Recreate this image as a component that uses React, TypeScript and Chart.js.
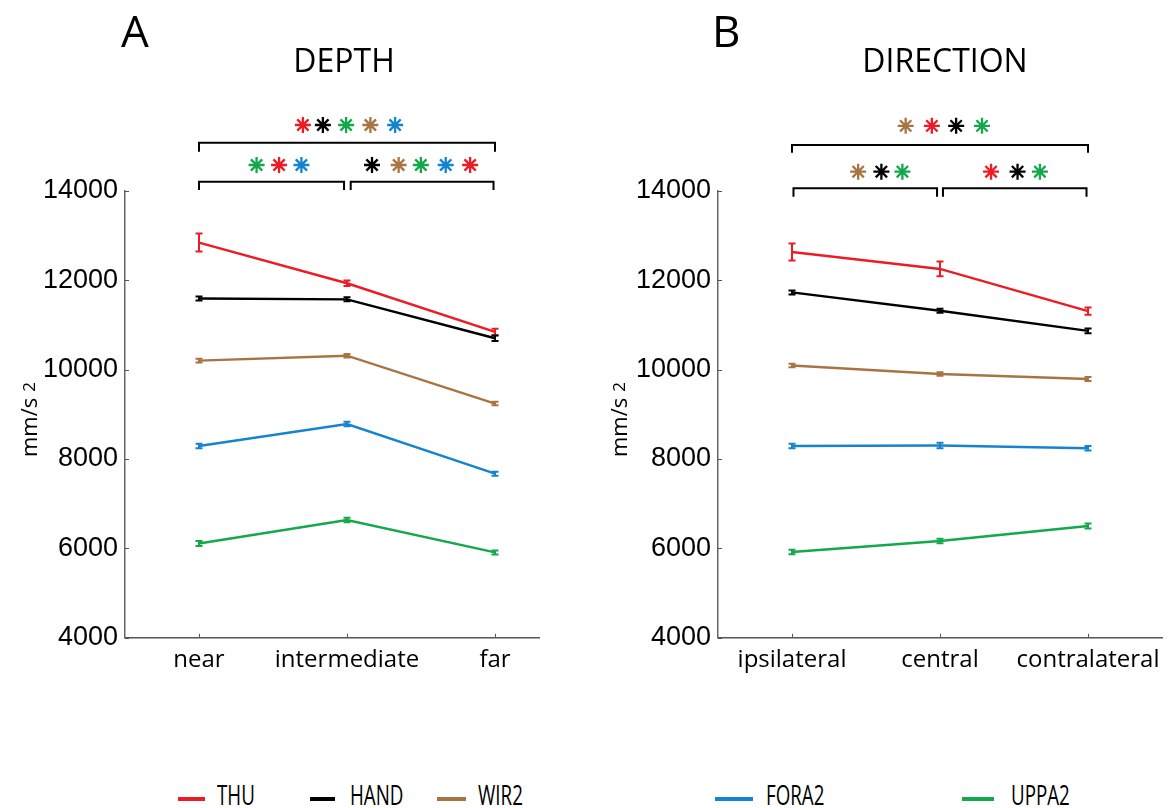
import React, { useEffect, useRef } from 'react';
import { Chart, registerables } from 'chart.js';

Chart.register(...registerables);

// ---------- data ----------
const seriesNames = ['THU', 'HAND', 'WIR2', 'FORA2', 'UPPA2'];
const seriesColors = ['#ED1C24', '#000000', '#A87443', '#1584D0', '#13A84B'];

const depthCategories = ['near', 'intermediate', 'far'];
const depthTHU = [12840, 11930, 10840];
const depthHAND = [11590, 11570, 10700];
const depthWIR2 = [10200, 10310, 9240];
const depthFORA2 = [8290, 8780, 7670];
const depthUPPA2 = [6110, 6635, 5910];
const depthErrTHU = [200, 60, 75];
const depthErrHAND = [45, 45, 60];
const depthErrWIR2 = [40, 40, 40];
const depthErrFORA2 = [50, 50, 45];
const depthErrUPPA2 = [55, 50, 45];

const directionCategories = ['ipsilateral', 'central', 'contralateral'];
const dirTHU = [12630, 12250, 11305];
const dirHAND = [11725, 11315, 10865];
const dirWIR2 = [10090, 9900, 9790];
const dirFORA2 = [8290, 8300, 8240];
const dirUPPA2 = [5920, 6165, 6500];
const dirErrTHU = [190, 165, 80];
const dirErrHAND = [45, 45, 55];
const dirErrWIR2 = [40, 40, 45];
const dirErrFORA2 = [50, 60, 50];
const dirErrUPPA2 = [50, 50, 55];

const yTicks = [4000, 6000, 8000, 10000, 12000, 14000];

// significance markers (x in category units, y in data units, colour index)
const depthStars = [
  { x: 1.702, y: 15470, c: 0 }, { x: 1.837, y: 15470, c: 1 }, { x: 1.994, y: 15470, c: 4 },
  { x: 2.158, y: 15470, c: 2 }, { x: 2.325, y: 15470, c: 3 },
  { x: 1.389, y: 14575, c: 4 }, { x: 1.541, y: 14575, c: 0 }, { x: 1.692, y: 14575, c: 3 },
  { x: 2.169, y: 14575, c: 1 }, { x: 2.349, y: 14575, c: 2 }, { x: 2.499, y: 14575, c: 4 },
  { x: 2.667, y: 14575, c: 3 }, { x: 2.832, y: 14575, c: 0 },
];
const depthBrackets = [
  { x1: 1.0, x2: 3.0, y: 15074, yEnd: 14872 },
  { x1: 1.0, x2: 1.98, y: 14201, yEnd: 14016 },
  { x1: 2.025, x2: 2.99, y: 14201, yEnd: 14016 },
];
const dirStars = [
  { x: 1.768, y: 15450, c: 2 }, { x: 1.945, y: 15450, c: 0 }, { x: 2.109, y: 15450, c: 1 },
  { x: 2.284, y: 15450, c: 4 },
  { x: 1.447, y: 14425, c: 2 }, { x: 1.604, y: 14425, c: 1 }, { x: 1.746, y: 14425, c: 4 },
  { x: 2.345, y: 14425, c: 0 }, { x: 2.524, y: 14425, c: 1 }, { x: 2.675, y: 14425, c: 4 },
];
const dirBrackets = [
  { x1: 1.0, x2: 3.0, y: 15022, yEnd: 14850 },
  { x1: 1.01, x2: 1.98, y: 14054, yEnd: 13866 },
  { x1: 2.02, x2: 2.99, y: 14054, yEnd: 13866 },
];

// ---------- plugin ----------
const annotPlugin = {
  id: 'annot',
  afterDatasetsDraw(chart: any, _args: any, opts: any) {
    const ctx = chart.ctx;
    const xs = chart.scales.x;
    const ys = chart.scales.y;
    chart.data.datasets.forEach((ds: any, i: number) => {
      const errs = opts.errors[i];
      ctx.save();
      ctx.strokeStyle = ds.borderColor;
      ctx.lineWidth = 2;
      ds.data.forEach((p: any, j: number) => {
        const x = xs.getPixelForValue(p.x);
        const y1 = ys.getPixelForValue(p.y - errs[j]);
        const y2 = ys.getPixelForValue(p.y + errs[j]);
        ctx.beginPath();
        ctx.moveTo(x, y1); ctx.lineTo(x, y2);
        ctx.moveTo(x - 3.5, y1); ctx.lineTo(x + 3.5, y1);
        ctx.moveTo(x - 3.5, y2); ctx.lineTo(x + 3.5, y2);
        ctx.stroke();
      });
      ctx.restore();
    });
  },
  afterDraw(chart: any, _args: any, opts: any) {
    const ctx = chart.ctx;
    const xs = chart.scales.x;
    const ys = chart.scales.y;
    const area = chart.chartArea;
    ctx.save();
    // inward tick marks
    ctx.strokeStyle = '#555';
    ctx.lineWidth = 1;
    ctx.beginPath();
    yTicks.forEach((v) => {
      const y = Math.round(ys.getPixelForValue(v)) + 0.5;
      ctx.moveTo(area.left, y); ctx.lineTo(area.left + 4, y);
    });
    [1, 2, 3].forEach((v) => {
      const x = Math.round(xs.getPixelForValue(v)) + 0.5;
      ctx.moveTo(x, area.bottom); ctx.lineTo(x, area.bottom - 4);
    });
    ctx.stroke();
    // brackets
    ctx.strokeStyle = '#000';
    ctx.lineWidth = 2;
    opts.brackets.forEach((b: any) => {
      const x1 = xs.getPixelForValue(b.x1);
      const x2 = xs.getPixelForValue(b.x2);
      const y = ys.getPixelForValue(b.y);
      const ye = ys.getPixelForValue(b.yEnd);
      ctx.beginPath();
      ctx.moveTo(x1, ye); ctx.lineTo(x1, y); ctx.lineTo(x2, y); ctx.lineTo(x2, ye);
      ctx.stroke();
    });
    // asterisks
    opts.stars.forEach((s: any) => {
      const cx = xs.getPixelForValue(s.x);
      const cy = ys.getPixelForValue(s.y);
      const r = 8;
      ctx.strokeStyle = seriesColors[s.c];
      ctx.lineWidth = 2.3;
      ctx.beginPath();
      for (let k = 0; k < 4; k++) {
        const a = (k * Math.PI) / 4;
        ctx.moveTo(cx - r * Math.cos(a), cy - r * Math.sin(a));
        ctx.lineTo(cx + r * Math.cos(a), cy + r * Math.sin(a));
      }
      ctx.stroke();
    });
    // y axis title
    ctx.fillStyle = '#000';
    ctx.translate(opts.labelX, 457);
    ctx.rotate(-Math.PI / 2);
    ctx.textBaseline = 'alphabetic';
    ctx.textAlign = 'left';
    ctx.font = '22px "Open Sans"';
    ctx.fillText('mm/s', 0, 0);
    const w = ctx.measureText('mm/s').width;
    ctx.font = '17px "Open Sans"';
    ctx.fillText('2', w + 6, -2);
    ctx.restore();
  },
};

function buildConfig(cats: string[], series: number[][], errors: number[][], xMax: number,
  yWidth: number, rightPad: number, stars: any[], brackets: any[], labelX: number): any {
  return {
    type: 'line',
    data: {
      datasets: series.map((vals, i) => ({
        label: seriesNames[i],
        data: vals.map((v, j) => ({ x: j + 1, y: v })),
        borderColor: seriesColors[i],
        backgroundColor: seriesColors[i],
        borderWidth: 2.4,
        pointRadius: 0,
        tension: 0,
      })),
    },
    options: {
      responsive: false,
      animation: false,
      events: [],
      layout: { padding: { top: 190.7, right: rightPad, left: 0, bottom: 0 } },
      plugins: {
        legend: { display: false },
        tooltip: { enabled: false },
        title: { display: false },
        annot: { errors, stars, brackets, labelX },
      },
      scales: {
        x: {
          type: 'linear',
          min: 0.5,
          max: xMax,
          afterBuildTicks: (s: any) => { s.ticks = [1, 2, 3].map((v) => ({ value: v })); },
          afterFit: (s: any) => { s.height = 62.2; },
          grid: { display: false, drawTicks: false },
          border: { display: true, color: '#555', width: 1.5 },
          ticks: {
            autoSkip: false,
            maxRotation: 0,
            padding: 8,
            color: '#000',
            font: { family: '"Open Sans"', size: 24 },
            callback: (v: number) => cats[v - 1] ?? '',
          },
        },
        y: {
          type: 'linear',
          min: 4000,
          max: 14000,
          afterBuildTicks: (s: any) => { s.ticks = yTicks.map((v) => ({ value: v })); },
          afterFit: (s: any) => { s.width = yWidth; },
          grid: { display: false, drawTicks: false },
          border: { display: true, color: '#666', width: 1.5 },
          ticks: {
            padding: 7,
            color: '#000',
            font: { family: '"Liberation Sans"', size: 27 },
            callback: (v: number) => String(v),
          },
        },
      },
    },
    plugins: [annotPlugin],
  };
}

function Panel({ left, config }: { left: number; config: any }) {
  const ref = useRef<HTMLCanvasElement>(null);
  useEffect(() => {
    const chart = new Chart(ref.current as HTMLCanvasElement, config);
    return () => chart.destroy();
  }, []);
  return (
    <canvas ref={ref} width={588} height={700}
      style={{ position: 'absolute', left, top: 0, width: 588, height: 700, display: 'block' }} />
  );
}

const textBase: React.CSSProperties = { position: 'absolute', fontFamily: '"Open Sans"', color: '#000', whiteSpace: 'nowrap' };

export default function App() {
  const depthConfig = buildConfig(
    depthCategories,
    [depthTHU, depthHAND, depthWIR2, depthFORA2, depthUPPA2],
    [depthErrTHU, depthErrHAND, depthErrWIR2, depthErrFORA2, depthErrUPPA2],
    3.3, 125, 48.6, depthStars, depthBrackets, 37,
  );
  const dirConfig = buildConfig(
    directionCategories,
    [dirTHU, dirHAND, dirWIR2, dirFORA2, dirUPPA2],
    [dirErrTHU, dirErrHAND, dirErrWIR2, dirErrFORA2, dirErrUPPA2],
    3.5, 130, 14, dirStars, dirBrackets, 39,
  );
  const legendLines = [
    { l: 178, w: 27, t: 217 },
    { l: 310, w: 25, t: 350 },
    { l: 437, w: 29, t: 478 },
    { l: 715, w: 38, t: 766 },
    { l: 962, w: 32, t: 1011 },
  ];
  return (
    <div style={{ position: 'absolute', left: 0, top: 0, width: 1176, height: 808, background: '#fff', overflow: 'hidden' }}>
      <Panel left={0} config={depthConfig} />
      <Panel left={588} config={dirConfig} />
      <div style={{ ...textBase, left: 121, top: 8, fontSize: 44, lineHeight: '44px' }}>A</div>
      <div style={{ ...textBase, left: 712, top: 8, fontSize: 44, lineHeight: '44px' }}>B</div>
      <div style={{ ...textBase, left: 144, width: 400, textAlign: 'center', top: 43.6, fontSize: 32, lineHeight: '32px' }}>DEPTH</div>
      <div style={{ ...textBase, left: 745, width: 400, textAlign: 'center', top: 43.6, fontSize: 32, lineHeight: '32px' }}>DIRECTION</div>
      {seriesNames.map((name, i) => (
        <React.Fragment key={name}>
          <div style={{ position: 'absolute', left: legendLines[i].l, top: 797, width: legendLines[i].w, height: 4, background: seriesColors[i] }} />
          <div style={{ ...textBase, left: legendLines[i].t, top: 780, fontSize: 28, lineHeight: '28px', transform: 'scaleX(0.67)', transformOrigin: 'left center' }}>{name}</div>
        </React.Fragment>
      ))}
    </div>
  );
}
